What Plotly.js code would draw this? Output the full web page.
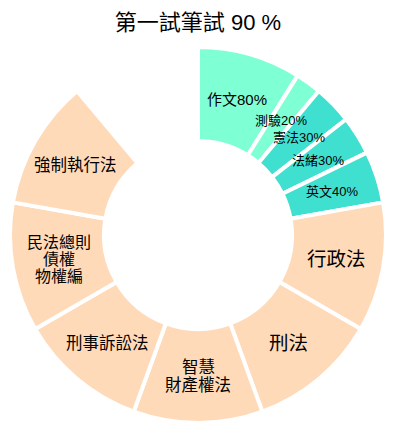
<!DOCTYPE html>
<html><head><meta charset="utf-8">
<script src="https://cdn.plot.ly/plotly-3.0.1.min.js"></script>
<style>body{margin:0;padding:0;background:#fff}#chart{width:396px;height:434px}</style>
</head><body><div id="chart"></div>
<script>
const labels = ["作文80%","測驗20%","憲法30%","法緒30%","英文40%","行政法","刑法","智慧財產權法","刑事訴訟法","民法總則債權物權編","強制執行法","(空白)"];
const values = [0.8,0.2,0.3,0.3,0.4,1,1,1,1,1,1,1];
const texts = ["作文80%","測驗20%","憲法30%","法緒30%","英文40%","行政法","刑法","智慧<br>財產權法","刑事訴訟法","民法總則<br>債權<br>物權編","強制執行法",""];
const textSizes = [15,13,13,13,13,19.5,19.5,16.5,16.5,16,16.5,16];
const colors = ["#7FFFD4","#7FFFD4","#40E0D0","#40E0D0","#40E0D0","#FFDAB9","#FFDAB9","#FFDAB9","#FFDAB9","#FFDAB9","#FFDAB9","rgba(255,255,255,0)"];

const W = 396, H = 434;
const margin = {l: 10, r: 10, t: 47, b: 11};
const hole = 0.5;
const FONT = "Liberation Sans, Noto Sans CJK TC";

const trace = {
  type: "pie",
  labels: labels,
  values: values,
  textinfo: "none",
  hoverinfo: "none",
  sort: false,
  direction: "clockwise",
  rotation: 0,
  hole: hole,
  marker: {colors: colors, line: {color: "#ffffff", width: 4}},
  showlegend: false
};

// labels placed at the middle of the ring, at each slice's mid angle
const plotW = W - margin.l - margin.r, plotH = H - margin.t - margin.b;
const R = Math.min(plotW, plotH) / 2;
const rMid = R * (1 + hole) / 2;
const total = values.reduce((a, b) => a + b, 0);
const annotations = [];
let cum = 0;
values.forEach((v, i) => {
  const th = (cum + v / 2) / total * 2 * Math.PI;
  cum += v;
  if (!texts[i]) return;
  const x = 0.5 + rMid * Math.sin(th) / plotW;
  const y = 0.5 + rMid * Math.cos(th) / plotH;
  const lines = texts[i].split("<br>");
  const s = textSizes[i] * 1.08;
  lines.forEach((ln, j) => {
    annotations.push({
      xref: "paper", yref: "paper", x: x, y: y,
      xanchor: "center", yanchor: "middle",
      yshift: -(j - (lines.length - 1) / 2) * s,
      text: ln, showarrow: false,
      font: {family: FONT, size: textSizes[i], color: "#000000"}
    });
  });
});

const layout = {
  width: W, height: H,
  margin: margin,
  paper_bgcolor: "#ffffff",
  title: {text: "第一試筆試 90 %", font: {family: FONT, size: 22, color: "#000000"}, x: 0.5, xanchor: "center", y: 0.948, yanchor: "middle"},
  showlegend: false,
  annotations: annotations
};
Plotly.newPlot("chart", [trace], layout, {displayModeBar: false, staticPlot: true});
</script>
</body></html>
